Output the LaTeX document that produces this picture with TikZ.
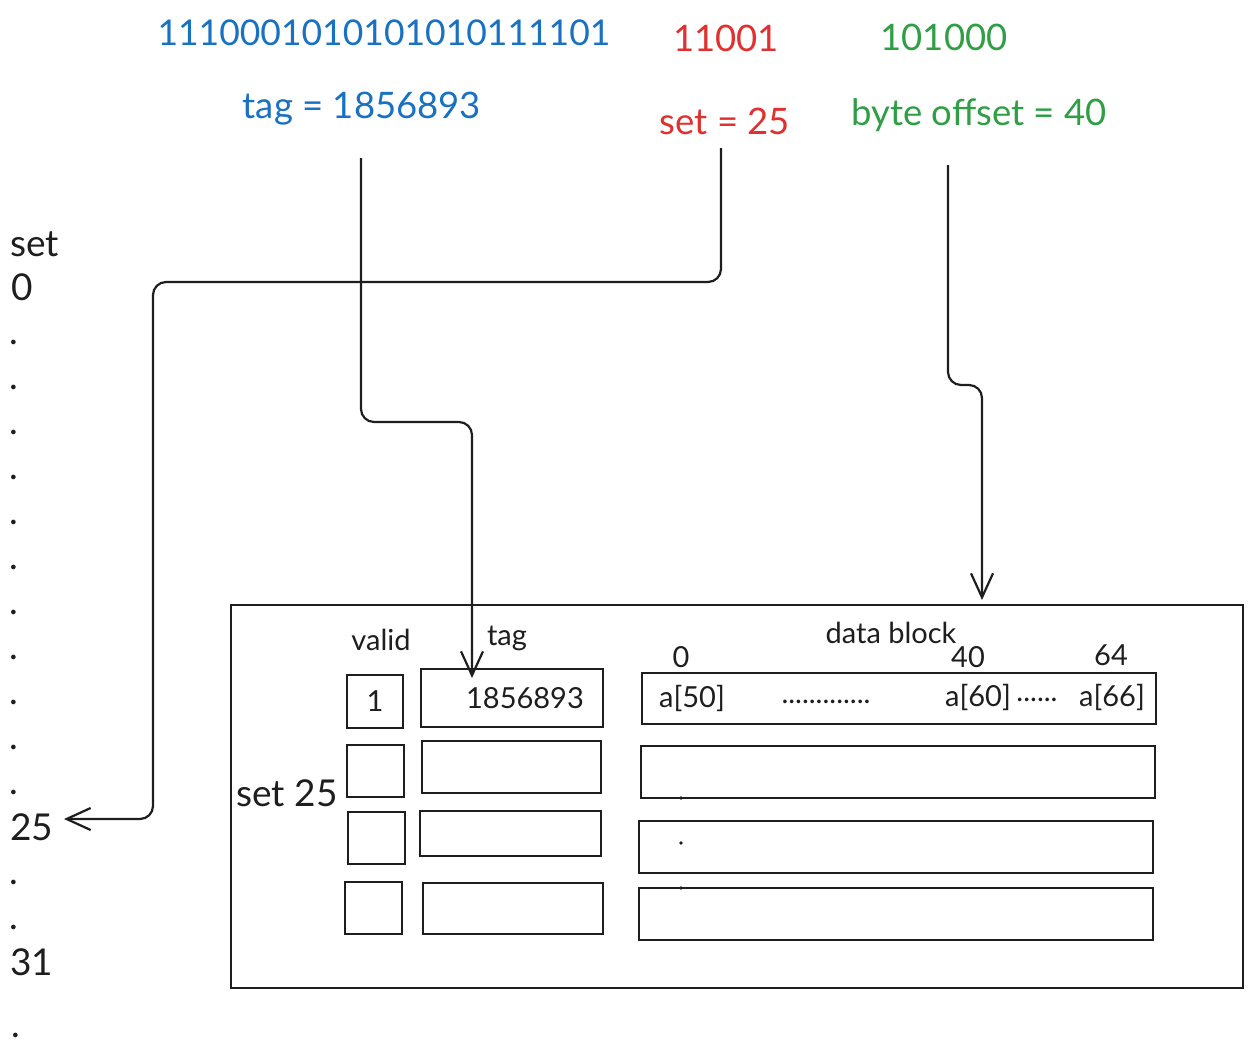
\documentclass[tikz,border=0pt]{standalone}
\usepackage{fontspec}
\setmainfont{Lato}
\usetikzlibrary{arrows.meta}
\definecolor{ink}{HTML}{1E1E1E}
\definecolor{addrblue}{HTML}{1971C2}
\definecolor{addrred}{HTML}{E03131}
\definecolor{addrgreen}{HTML}{2F9E44}
\newcommand{\fs}[1]{\fontsize{#1}{#1}\selectfont}
\tikzset{
  lbl/.style={inner sep=0pt, text=ink, font=\fs{29}},
  big/.style={inner sep=0pt, font=\fs{36.5}},
  col/.style={inner sep=0pt, text=ink, font=\fs{37}},
  dotmark/.style={inner sep=0pt, text=ink, font=\fs{37}},
  cell/.style={draw=ink, line width=2.2pt},
  wire/.style={draw=ink, line width=2.2pt, rounded corners=13pt,
    -{Straight Barb[length=24pt,width=22pt,line width=2.2pt]}},
}
\begin{document}
\begin{tikzpicture}[x=1pt,y=-1pt]
\useasboundingbox (0,0) rectangle (1252,1060);

% address fields
\node[big, text=addrblue, font=\fs{35.5}] (bits) at (384,33) {1110001010101010111101};
\node[big, text=addrblue] (tagval) at (362,109) {tag = 1856893};
\node[big, text=addrred]  (setbits) at (726,38)  {11001};
\node[big, text=addrred]  (setval) at (725,121) {set = 25};
\node[big, text=addrgreen] (offbits) at (944,37) {101000};
\node[big, text=addrgreen] (offval) at (979,115) {byte offset = 40};

% list of sets
\node[col, anchor=west] (sethead) at (10,244) {set};
\node[col, anchor=west] (s0) at (11,287) {0};
\foreach \y [count=\i] in {342,387,432,477,522,567,612,657,702,747,792}
  \node[dotmark] (d\i) at (14,\y) {.};
\node[col, anchor=west] (s25) at (10,827) {25};
\node[dotmark] (e1) at (14,882) {.};
\node[dotmark] (e2) at (14,927) {.};
\node[col, anchor=west] (s31) at (10,962) {31};
\node[dotmark] (e3) at (16,1035) {.};

% the selected set
\node[cell, minimum width=1012pt, minimum height=383pt, anchor=north west,
  inner sep=0pt] (setbox) at (230,604) {};
\node[col] (setname) at (287,793) {set 25};
\node[lbl] (hvalid) at (381,640) {valid};
\node[lbl] (htag)   at (507,638) {tag};
\node[lbl] (hdata)  at (891,633) {data block};
\node[lbl] (p0)  at (681,657) {0};
\node[lbl] (p40) at (968,657) {40};
\node[lbl] (p64) at (1111,655) {64};

% valid bits
\draw[cell] (347,675) rectangle (403,728);
\draw[cell] (347,745) rectangle (404,797);
\draw[cell] (348,812) rectangle (405,864);
\draw[cell] (345,882) rectangle (402,934);
\node[lbl] (v1) at (375,701) {1};

% tags
\draw[cell] (421,669) rectangle (603,727);
\draw[cell] (422,741) rectangle (601,793);
\draw[cell] (420,811) rectangle (601,856);
\draw[cell] (423,883) rectangle (603,934);
\node[lbl] (t1) at (525,698) {1856893};

% data blocks
\draw[cell] (642,673) rectangle (1156,724);
\draw[cell] (641,746) rectangle (1155,798);
\draw[cell] (639,821) rectangle (1153,873);
\draw[cell] (639,888) rectangle (1153,940);
\node[lbl] (a50) at (692,698) {a[50]};
\node[lbl] (gap1) at (826,702) {.............};
\node[lbl] (a60) at (978,697) {a[60]};
\node[lbl] (gap2) at (1037,700) {......};
\node[lbl] (a66) at (1112,697) {a[66]};
\foreach \y [count=\i] in {798,843,888}
  \fill[ink] (681,\y) circle (1.9pt);

% connectors
\coordinate (setsrc) at (721,148);
\coordinate (tagsrc) at (361,158);
\coordinate (offsrc) at (948,165);
\coordinate (setdst) at (64,819);
\coordinate (tagdst) at (472,678);
\coordinate (offdst) at (982,600);
\draw[wire] (setsrc) -- (721,282) -- (153,282) -- (153,819) -- (setdst);
\draw[wire] (tagsrc) -- (361,422) -- (472,422) -- (tagdst);
\draw[wire] (offsrc) -- (948,385) -- (982,385) -- (offdst);
\end{tikzpicture}
\end{document}
